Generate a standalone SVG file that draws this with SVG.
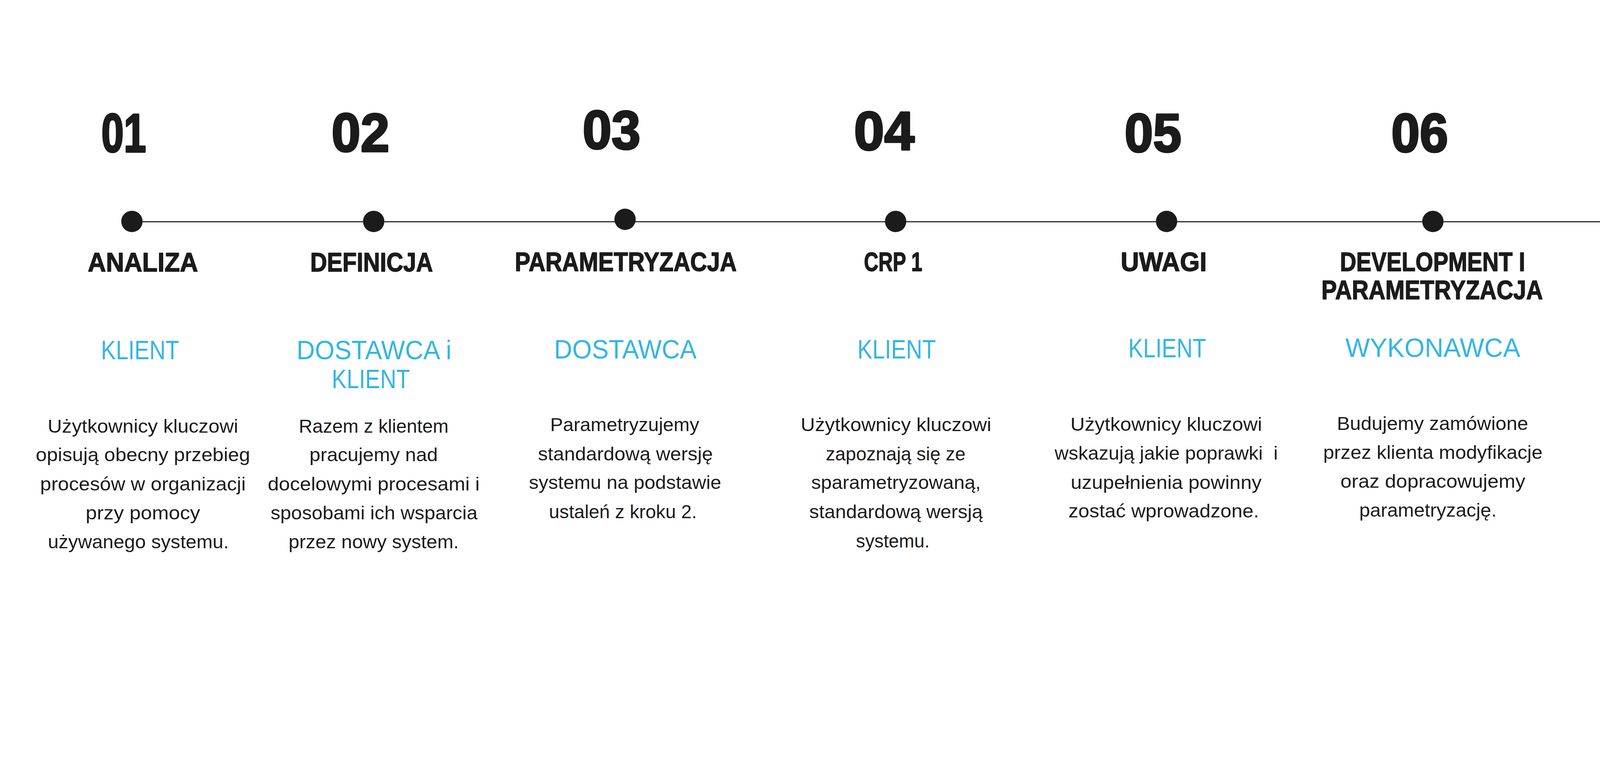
<svg xmlns="http://www.w3.org/2000/svg" width="4500" height="2000" viewBox="0 0 4500 2000" preserveAspectRatio="xMidYMin meet">
<style>
svg:root{width:100vw;height:100vh}
.num{font-family:"Liberation Sans",Arial,sans-serif;font-weight:700;font-size:152px;fill:#1b1b1b;stroke:#1b1b1b;stroke-width:5;stroke-linejoin:round;text-anchor:middle}
.ttl{font-family:"Liberation Sans",Arial,sans-serif;font-weight:700;font-size:75px;fill:#1b1b1b;stroke:#1b1b1b;stroke-width:2;stroke-linejoin:round;text-anchor:middle}
.who{font-family:"Liberation Sans",Arial,sans-serif;font-weight:400;font-size:75px;fill:#33b5e6;text-anchor:middle}
.body{font-family:"Liberation Sans",Arial,sans-serif;font-weight:400;font-size:52px;fill:#1b1b1b;text-anchor:middle;white-space:pre}
.dot{fill:#1b1b1b}
.line{stroke:#1b1b1b;stroke-width:3;fill:none}
</style>
<rect width="4500" height="2000" fill="#ffffff"/>
<g id="connectors">
<line class="line" x1="371" y1="624" x2="4500" y2="624"/>
</g>
<g id="step01">
<circle class="dot" cx="371" cy="623" r="30"/>
<text class="num" x="348" y="427" textLength="126" lengthAdjust="spacingAndGlyphs">01</text>
<text class="ttl" x="402" y="764" textLength="310" lengthAdjust="spacingAndGlyphs">ANALIZA</text>
<text class="who" x="394" y="1011" textLength="220" lengthAdjust="spacingAndGlyphs">KLIENT</text>
<text class="body" x="402" y="1217" textLength="536" lengthAdjust="spacingAndGlyphs">Użytkownicy kluczowi</text>
<text class="body" x="402" y="1298" textLength="603" lengthAdjust="spacingAndGlyphs">opisują obecny przebieg</text>
<text class="body" x="402" y="1380" textLength="578" lengthAdjust="spacingAndGlyphs">procesów w organizacji</text>
<text class="body" x="402" y="1461" textLength="322" lengthAdjust="spacingAndGlyphs">przy pomocy</text>
<text class="body" x="389" y="1543" textLength="509" lengthAdjust="spacingAndGlyphs">używanego systemu.</text>
</g>
<g id="step02">
<circle class="dot" cx="1051" cy="623" r="30"/>
<text class="num" x="1014" y="426" textLength="163" lengthAdjust="spacingAndGlyphs">02</text>
<text class="ttl" x="1045" y="764" textLength="345" lengthAdjust="spacingAndGlyphs">DEFINICJA</text>
<text class="who" x="1052" y="1011" textLength="436" lengthAdjust="spacingAndGlyphs">DOSTAWCA i</text>
<text class="who" x="1043" y="1092" textLength="220" lengthAdjust="spacingAndGlyphs">KLIENT</text>
<text class="body" x="1051" y="1217" textLength="421" lengthAdjust="spacingAndGlyphs">Razem z klientem</text>
<text class="body" x="1051" y="1298" textLength="361" lengthAdjust="spacingAndGlyphs">pracujemy nad</text>
<text class="body" x="1051" y="1380" textLength="596" lengthAdjust="spacingAndGlyphs">docelowymi procesami i</text>
<text class="body" x="1052" y="1461" textLength="582" lengthAdjust="spacingAndGlyphs">sposobami ich wsparcia</text>
<text class="body" x="1051" y="1543" textLength="479" lengthAdjust="spacingAndGlyphs">przez nowy system.</text>
</g>
<g id="step03">
<circle class="dot" cx="1758" cy="617" r="30"/>
<text class="num" x="1720" y="419" textLength="163" lengthAdjust="spacingAndGlyphs">03</text>
<text class="ttl" x="1760" y="762" textLength="624" lengthAdjust="spacingAndGlyphs">PARAMETRYZACJA</text>
<text class="who" x="1759" y="1008" textLength="401" lengthAdjust="spacingAndGlyphs">DOSTAWCA</text>
<text class="body" x="1757" y="1213" textLength="419" lengthAdjust="spacingAndGlyphs">Parametryzujemy</text>
<text class="body" x="1759" y="1295" textLength="492" lengthAdjust="spacingAndGlyphs">standardową wersję</text>
<text class="body" x="1758" y="1376" textLength="541" lengthAdjust="spacingAndGlyphs">systemu na podstawie</text>
<text class="body" x="1752" y="1458" textLength="416" lengthAdjust="spacingAndGlyphs">ustaleń z kroku 2.</text>
</g>
<g id="step04">
<circle class="dot" cx="2519" cy="623" r="30"/>
<text class="num" x="2487" y="422" textLength="170" lengthAdjust="spacingAndGlyphs">04</text>
<text class="ttl" x="2512" y="762" textLength="164" lengthAdjust="spacingAndGlyphs">CRP 1</text>
<text class="who" x="2522" y="1008" textLength="221" lengthAdjust="spacingAndGlyphs">KLIENT</text>
<text class="body" x="2520" y="1213" textLength="536" lengthAdjust="spacingAndGlyphs">Użytkownicy kluczowi</text>
<text class="body" x="2519" y="1295" textLength="393" lengthAdjust="spacingAndGlyphs">zapoznają się ze</text>
<text class="body" x="2520" y="1376" textLength="477" lengthAdjust="spacingAndGlyphs">sparametryzowaną,</text>
<text class="body" x="2520" y="1458" textLength="488" lengthAdjust="spacingAndGlyphs">standardową wersją</text>
<text class="body" x="2511" y="1540" textLength="207" lengthAdjust="spacingAndGlyphs">systemu.</text>
</g>
<g id="step05">
<circle class="dot" cx="3281" cy="623" r="30"/>
<text class="num" x="3243" y="427" textLength="160" lengthAdjust="spacingAndGlyphs">05</text>
<text class="ttl" x="3273" y="762" textLength="242" lengthAdjust="spacingAndGlyphs">UWAGI</text>
<text class="who" x="3283" y="1005" textLength="219" lengthAdjust="spacingAndGlyphs">KLIENT</text>
<text class="body" x="3280" y="1212" textLength="539" lengthAdjust="spacingAndGlyphs">Użytkownicy kluczowi</text>
<text class="body" x="3280" y="1293" textLength="628" lengthAdjust="spacingAndGlyphs" xml:space="preserve">wskazują jakie poprawki  i</text>
<text class="body" x="3280" y="1375" textLength="537" lengthAdjust="spacingAndGlyphs">uzupełnienia powinny</text>
<text class="body" x="3273" y="1456" textLength="536" lengthAdjust="spacingAndGlyphs">zostać wprowadzone.</text>
</g>
<g id="step06">
<circle class="dot" cx="4030" cy="623" r="30"/>
<text class="num" x="3993" y="427" textLength="160" lengthAdjust="spacingAndGlyphs">06</text>
<text class="ttl" x="4029" y="762" textLength="521" lengthAdjust="spacingAndGlyphs">DEVELOPMENT I</text>
<text class="ttl" x="4028" y="842" textLength="623" lengthAdjust="spacingAndGlyphs">PARAMETRYZACJA</text>
<text class="who" x="4030" y="1004" textLength="492" lengthAdjust="spacingAndGlyphs">WYKONAWCA</text>
<text class="body" x="4029" y="1210" textLength="538" lengthAdjust="spacingAndGlyphs">Budujemy zamówione</text>
<text class="body" x="4030" y="1291" textLength="617" lengthAdjust="spacingAndGlyphs">przez klienta modyfikacje</text>
<text class="body" x="4030" y="1372" textLength="520" lengthAdjust="spacingAndGlyphs">oraz dopracowujemy</text>
<text class="body" x="4016" y="1454" textLength="386" lengthAdjust="spacingAndGlyphs">parametryzację.</text>
</g>
</svg>
